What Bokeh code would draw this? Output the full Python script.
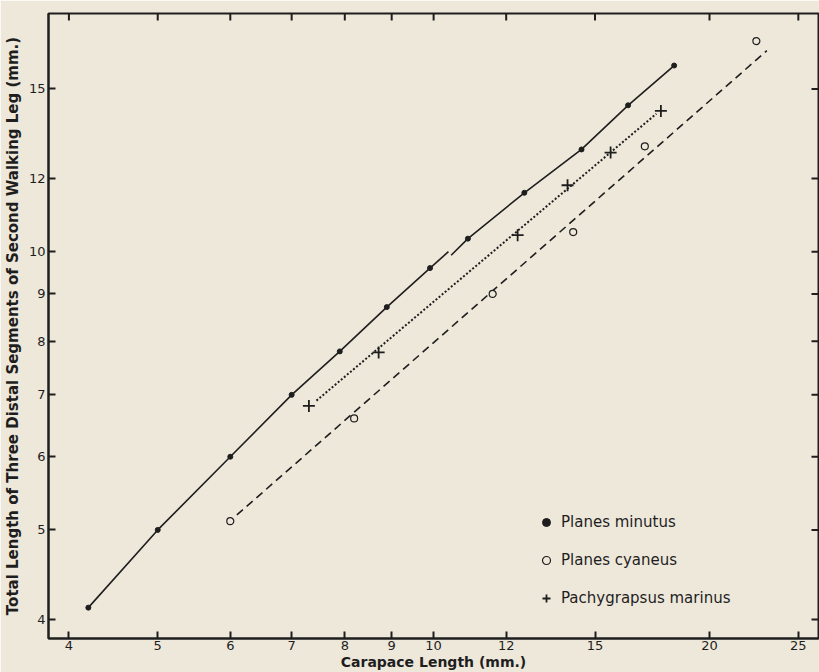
import math
from bokeh.plotting import figure
from bokeh.models import FixedTicker, Legend, LegendItem, Range1d
from bokeh.embed import file_html
from bokeh.resources import INLINE

# ---- data ----
x_ticks = [4, 5, 6, 7, 8, 9, 10, 12, 15, 20, 25]
y_ticks = [4, 5, 6, 7, 8, 9, 10, 12, 15]

minutus_x = [4.2, 5.0, 6.0, 7.0, 7.9, 8.89, 9.91, 10.9, 12.56, 14.5, 16.3, 18.3]
minutus_y = [4.12, 5.0, 6.0, 7.0, 7.8, 8.71, 9.6, 10.33, 11.58, 12.9, 14.4, 15.9]
minutus_line_a_x = [4.2, 5.0, 6.0, 7.0, 7.9, 8.89, 9.91, 10.38]
minutus_line_a_y = [4.12, 5.0, 6.0, 7.0, 7.8, 8.71, 9.6, 10.0]
minutus_line_b_x = [10.45, 10.9, 12.56, 14.5, 16.3, 18.3]
minutus_line_b_y = [9.91, 10.33, 11.58, 12.9, 14.4, 15.9]

cyaneus_x = [6.0, 8.19, 11.6, 14.2, 17.0, 22.5]
cyaneus_y = [5.11, 6.6, 9.0, 10.5, 13.0, 16.9]
cyaneus_line_x = [6.1, 23.1]
cyaneus_line_y = [5.19, 16.5]

marinus_x = [7.31, 8.71, 12.35, 14.0, 15.6, 17.7]
marinus_y = [6.81, 7.78, 10.42, 11.8, 12.8, 14.2]
marinus_line_x = [7.45, 17.5]
marinus_line_y = [6.9, 14.1]

labels = ["Planes minutus", "Planes cyaneus", "Pachygrapsus marinus"]
x_title = "Carapace Length (mm.)"
y_title = "Total Length of Three Distal Segments of Second Walking Leg (mm.)"

# ---- styling ----
BG = "#EEE8DB"
INK = "#1e1e1e"
FONT = "DejaVu Sans"

x_range = Range1d(3.80, 26.3)
y_range = Range1d(3.815, 18.1)

p = figure(width=819, height=672, x_axis_type="log", y_axis_type="log",
           x_range=x_range, y_range=y_range,
           output_backend="svg", toolbar_location=None,
           min_border_left=48, min_border_right=1, min_border_top=13, min_border_bottom=34)
p.background_fill_color = BG
p.border_fill_color = BG
p.grid.visible = False
p.outline_line_color = INK
p.outline_line_width = 2

xa = p.xaxis[0]
ya = p.yaxis[0]
for ax, ticks in ((xa, x_ticks), (ya, y_ticks)):
    ax.ticker = FixedTicker(ticks=ticks)
    ax.axis_line_color = INK
    ax.axis_line_width = 2
    ax.major_tick_line_color = INK
    ax.major_tick_line_width = 2
    ax.major_tick_in = 7
    ax.major_tick_out = 0
    ax.minor_tick_line_color = None
    ax.major_label_text_font = FONT
    ax.major_label_text_color = INK
    ax.major_label_text_font_size = "13px"
    ax.axis_label_text_font = FONT
    ax.axis_label_text_font_style = "bold"
    ax.axis_label_text_color = INK
xa.axis_label_text_font_size = "14px"
ya.axis_label_text_font_size = "15px"
xa.major_label_standoff = 2
ya.major_label_standoff = 3
xa.axis_label = x_title
ya.axis_label = y_title
xa.axis_label_standoff = 1
ya.axis_label_standoff = 4

# mirrored inward ticks on the top and right frame edges (clipped to the frame)
p.scatter(x_ticks, [y_range.end] * len(x_ticks), marker="dash", angle=math.pi / 2,
          size=14, line_color=INK, line_width=2)
p.scatter([x_range.end] * len(y_ticks), y_ticks, marker="dash",
          size=14, line_color=INK, line_width=2)

# lines
p.line(minutus_line_a_x, minutus_line_a_y, line_color=INK, line_width=1.6)
p.line(minutus_line_b_x, minutus_line_b_y, line_color=INK, line_width=1.6)
p.line(cyaneus_line_x, cyaneus_line_y, line_color=INK, line_width=1.6, line_dash="8 5")
p.line(marinus_line_x, marinus_line_y, line_color=INK, line_width=2, line_dash="2 2")

# markers
r_min = p.scatter(minutus_x, minutus_y, marker="circle", size=5, fill_color=INK, line_color=INK)
r_cya = p.scatter(cyaneus_x, cyaneus_y, marker="circle", size=7, fill_color=BG, line_color=INK, line_width=1.2)
r_mar = p.scatter(marinus_x, marinus_y, marker="cross", size=12, line_color=INK, line_width=1.8)

legend = Legend(items=[LegendItem(label=labels[0], renderers=[r_min]),
                       LegendItem(label=labels[1], renderers=[r_cya]),
                       LegendItem(label=labels[2], renderers=[r_mar])],
                location=(488, 30), padding=0, margin=0, spacing=18,
                glyph_height=20, glyph_width=20, label_standoff=5,
                background_fill_alpha=0, border_line_alpha=0,
                label_text_font=FONT, label_text_font_size="15px", label_text_color=INK)
p.add_layout(legend, "center")

open("out.html", "w").write(file_html(p, INLINE))
